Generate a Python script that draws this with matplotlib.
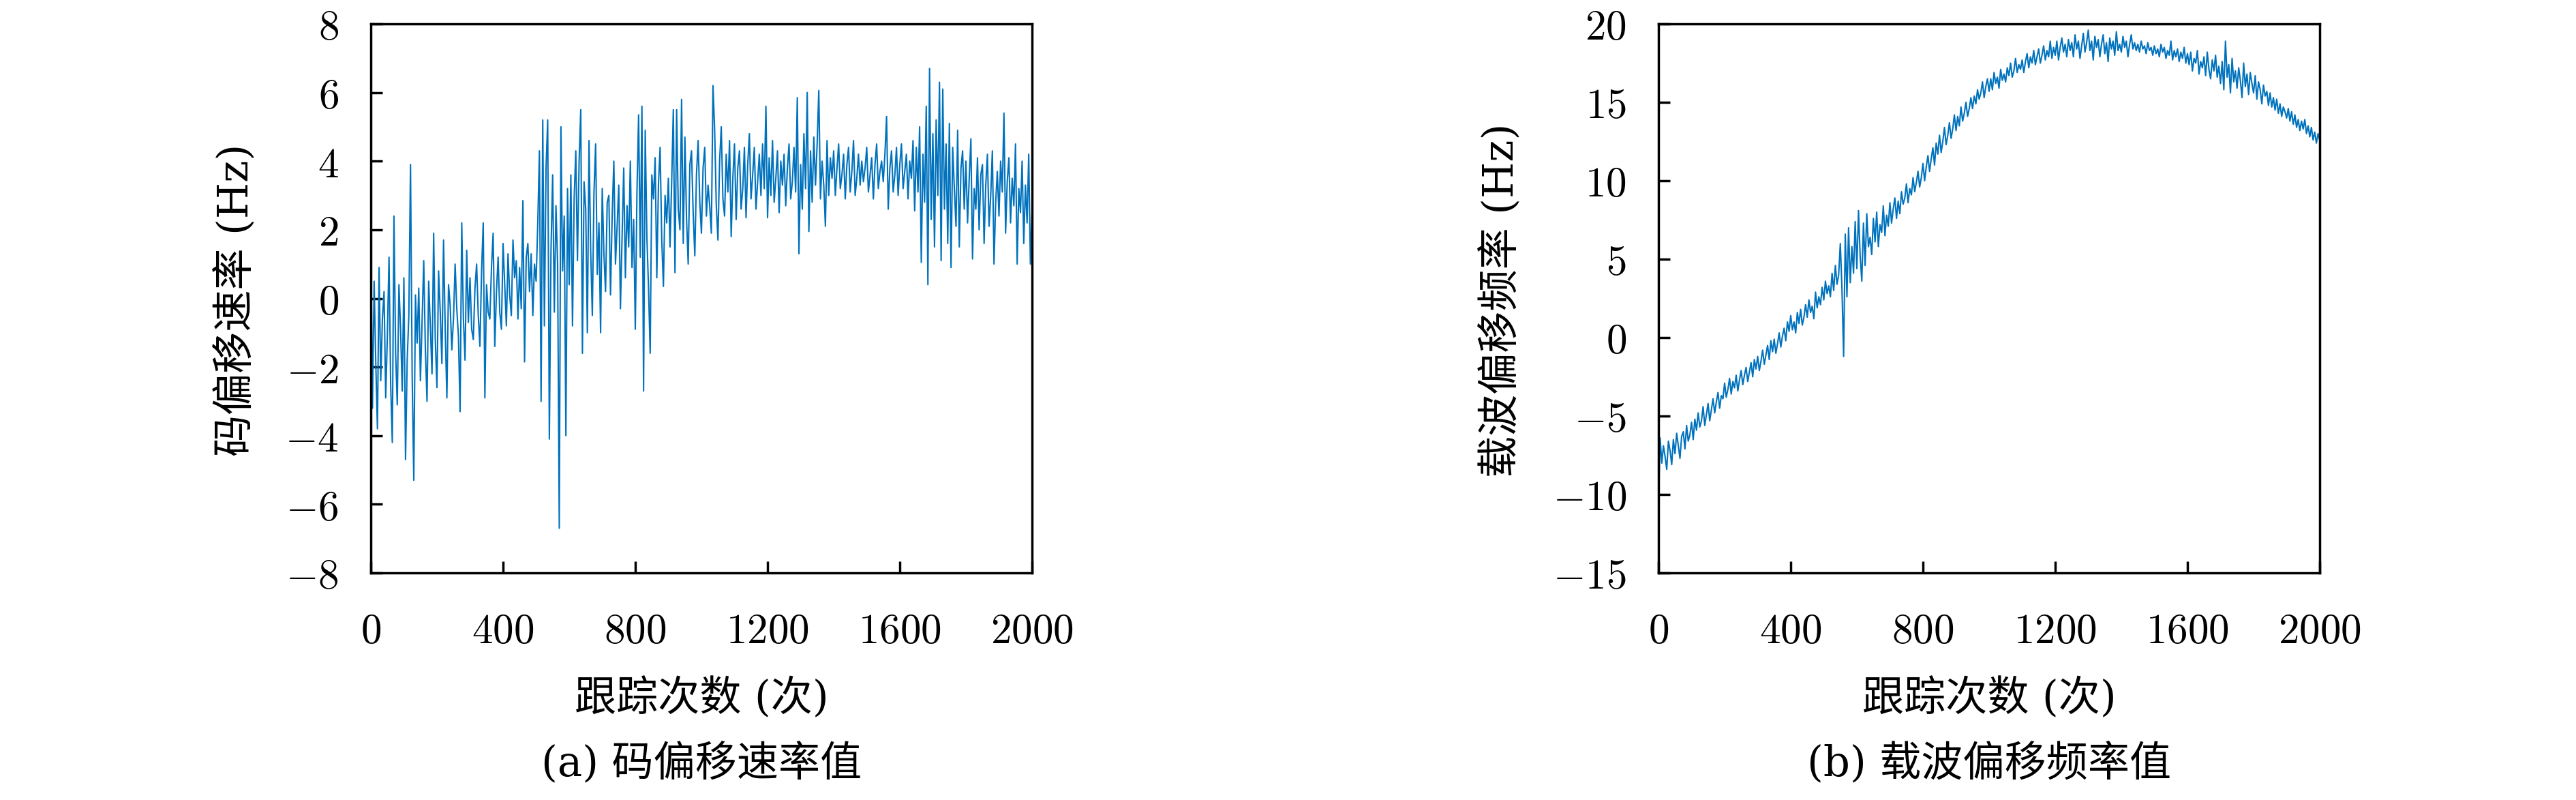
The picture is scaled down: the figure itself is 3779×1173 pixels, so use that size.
import numpy as np
import matplotlib
matplotlib.use("Agg")
import matplotlib.pyplot as plt
from matplotlib.ticker import FuncFormatter

plt.rcParams['mathtext.fontset'] = 'cm'
plt.rcParams['font.family'] = ['DejaVu Serif', 'Noto Sans CJK SC']

# values, one every 5 tracking steps (0..2000)
# (a) code offset rate, Hz
code_rate = [
    1.8, -3.2, 0.5, -1.9, -3.8, 0.9, -2.4, -0.6, 0.2, -2.9,
    -1.1, 1.2, -2.5, -4.2, 2.4, -1.6, -3.1, 0.4, -0.9, -2.7,
    0.6, -4.7, -1.8, -0.5, 3.9, -2.2, -5.3, 0.1, -1.3, 0.3,
    -2.4, -0.7, 1.1, -1.5, -3.0, 0.5, -0.8, -2.2, 1.9, -1.2,
    -2.6, 0.8, -0.4, -1.9, 1.7, -0.9, -2.9, 0.4, -0.2, -1.5,
    -0.6, 1.0, -0.3, -1.1, -3.3, 2.2, -0.6, -1.8, 1.4, -0.7,
    0.6, -0.9, -1.2, 0.3, 1.0, -0.5, -1.4, 0.8, 2.2, -2.9,
    0.4, -0.4, -0.6, 0.9, 1.9, -1.4, 0.2, 1.2, -0.4, -0.9,
    1.6, 0.4, -0.8, 1.3, 0.1, -0.5, 1.7, 0.6, 1.1, -0.6,
    0.9, -0.3, 2.85, -1.85, 1.2, 1.6, 0.2, 1.3, -0.5, 1.0,
    0.5, 2.2, 4.3, -3.0, 5.2, -0.8, 3.8, 5.2, -4.1, 1.4,
    3.6, -0.4, 2.7, 1.0, -6.7, 5.0, 0.8, 2.4, -4.0, 3.2,
    0.4, 3.6, -0.8, 2.9, 4.3, 1.1, 4.0, 5.5, -1.6, 3.4,
    2.6, -1.0, 4.6, 1.4, -0.5, 3.1, 4.5, 0.7, 2.2, -1.0,
    3.2, 1.3, 0.2, 2.8, 3.0, 0.1, 2.4, 4.0, 1.0, 2.1,
    3.3, -0.3, 1.8, 3.8, 0.6, 2.7, 1.5, 4.0, 0.9, 2.3,
    -0.9, 3.1, 5.35, 1.2, 5.6, -2.7, 4.9, 1.8, 0.3, -1.6,
    3.6, 2.9, 4.1, 0.6, 3.3, 4.4, 1.7, 0.35, 3.0, 2.2,
    3.5, 1.5, 3.4, 5.5, 0.75, 5.5, 2.6, 2.0, 5.8, 1.6,
    4.7, 2.3, 1.0, 3.9, 4.3, 2.5, 1.24, 3.6, 4.6, 2.8,
    1.9, 3.8, 4.4, 2.4, 3.3, 2.7, 1.9, 6.2, 4.9, 2.7,
    1.7, 4.0, 5.0, 2.9, 2.4, 4.2, 3.1, 4.6, 1.8, 3.5,
    4.5, 2.3, 3.8, 4.3, 2.6, 3.2, 4.4, 2.35, 3.9, 4.8,
    2.9, 3.6, 4.4, 2.6, 3.4, 4.2, 3.0, 4.5, 3.2, 5.6,
    2.35, 4.1, 3.0, 4.6, 2.8, 3.5, 4.3, 2.5, 4.0, 3.3,
    4.2, 2.7, 3.8, 4.5, 2.9, 3.4, 4.4, 3.1, 5.85, 1.3,
    3.9, 2.6, 4.8, 3.2, 6.0, 1.95, 4.3, 2.8, 4.7, 3.3,
    4.5, 6.06, 2.9, 4.0, 3.3, 2.1, 4.6, 3.0, 4.1, 3.5,
    4.3, 3.0, 3.8, 4.5, 3.2, 3.6, 4.2, 2.9, 3.9, 4.4,
    3.1, 3.7, 4.6, 3.0, 3.5, 4.2, 3.3, 4.0, 3.4, 3.8,
    4.4, 3.1, 3.6, 4.1, 2.9, 3.9, 4.5, 3.2, 3.7, 4.0,
    3.4, 4.2, 5.3, 2.6, 3.8, 4.3, 3.1, 3.6, 4.4, 3.0,
    3.9, 4.5, 3.2, 3.7, 4.2, 2.9, 4.0, 3.5, 4.6, 2.55,
    4.4, 3.1, 5.0, 1.05, 4.2, 2.8, 5.6, 0.4, 6.7, 2.3,
    4.8, 1.5, 5.2, 3.0, 6.3, 1.1, 6.1, 2.6, 4.5, 1.6,
    5.1, 0.9, 4.4, 3.2, 2.1, 4.9, 1.5, 3.8, 4.3, 2.6,
    4.0, 2.2, 3.5, 4.65, 1.15, 3.2, 2.6, 4.1, 2.0, 3.6,
    3.9, 1.6, 3.3, 4.2, 2.1, 3.0, 4.3, 1.0, 2.8, 3.7,
    2.4, 4.0, 3.1, 5.4, 1.9, 3.4, 4.1, 2.2, 3.5, 2.7,
    4.5, 1.0, 3.2, 2.5, 4.0, 1.6, 3.3, 2.2, 4.2, 1.0,
    2.5,
]

# (b) carrier offset frequency, Hz
carrier_freq = [
    -10.5, -6.4, -8.0, -6.9, -7.6, -8.4, -6.6, -7.2, -8.1, -6.5,
    -7.4, -6.1, -6.9, -7.7, -6.3, -6.0, -7.1, -5.6, -6.6, -6.2,
    -5.4, -6.5, -5.2, -5.9, -4.8, -5.7, -5.3, -4.4, -5.6, -4.9,
    -4.2, -5.3, -4.6, -3.9, -4.8, -4.1, -3.5, -4.5, -3.7, -3.9,
    -2.9, -3.8, -3.3, -2.6, -3.6, -2.8, -3.2, -2.4, -3.4, -2.7,
    -2.1, -3.0, -2.4, -1.9, -2.8, -2.2, -1.6, -2.5, -1.4, -2.0,
    -1.2, -2.1, -1.5, -0.8, -1.7, -1.1, -0.5, -1.4, -0.2, -0.9,
    -0.1, -1.0, -0.4, 0.3, -0.6, 0.1, 0.6, -0.2, 1.0, 0.4,
    1.4, 0.5, 1.0, 0.3, 1.6, 0.9, 1.8, 0.8, 1.3, 2.1,
    1.3, 2.4, 1.6, 2.0, 1.2, 2.9, 1.9, 2.6, 2.1, 3.2,
    2.4, 3.6, 2.8, 3.3, 2.6, 4.1, 3.0, 4.6, 3.4, 4.0,
    6.0, 3.1, -1.2, 6.6, 2.6, 7.0, 3.5, 5.8, 4.1, 7.4,
    4.4, 8.1, 5.2, 3.6, 7.3, 4.6, 7.9, 5.8, 6.4, 5.3,
    7.6, 6.1, 8.0, 5.8, 7.2, 6.7, 8.4, 6.5, 7.8, 7.1,
    8.6, 7.3, 8.2, 8.9, 7.6, 8.7, 7.9, 9.3, 8.5, 8.9,
    9.8, 8.6, 9.5, 9.1, 10.2, 9.3, 9.9, 10.6, 9.6, 10.2,
    11.1, 10.0, 10.9, 11.6, 10.6, 11.4, 12.1, 11.0, 12.4, 11.7,
    12.9, 11.8, 12.5, 13.4, 12.3, 12.9, 13.7, 12.7, 13.3, 14.2,
    13.2, 14.1, 13.5, 14.7, 13.8, 14.3, 15.0, 14.1, 14.6, 15.3,
    14.6, 15.4, 14.9, 15.8, 15.2, 15.6, 16.3, 15.3, 16.0, 16.5,
    15.7, 16.5, 15.8, 16.9, 16.2, 16.6, 15.9, 17.1, 16.4, 16.8,
    16.3, 17.2, 16.7, 17.5, 16.6, 17.0, 17.8, 16.9, 17.4, 17.1,
    17.7, 16.9, 17.6, 18.1, 17.2, 17.9, 17.5, 18.3, 17.4, 17.9,
    18.4, 17.5, 18.0, 18.6, 17.7, 18.3, 17.9, 18.9, 17.8, 18.5,
    18.0, 18.9, 17.7, 18.5, 19.1, 18.2, 18.7, 17.9, 19.0, 18.3,
    18.8, 17.9, 19.3, 18.4, 18.9, 17.8, 18.6, 19.4, 18.2, 18.8,
    19.6, 18.3, 18.9, 17.7, 19.2, 18.5, 19.0, 17.9, 18.7, 19.3,
    18.1, 18.8, 17.6, 19.1, 18.4, 18.9, 18.0, 19.5, 18.3, 18.7,
    18.2, 19.2, 18.5, 18.9, 17.9, 18.7, 19.3, 18.4, 18.8, 18.3,
    18.7, 18.2, 18.9, 18.4, 18.6, 18.1, 18.8, 18.3, 18.5, 18.0,
    18.6, 18.1, 18.4, 17.9, 18.7, 18.2, 18.5, 17.8, 18.3, 18.0,
    18.9, 17.7, 18.3, 17.9, 18.4, 17.6, 18.2, 17.8, 18.5, 17.5,
    18.1, 17.4, 18.2, 17.0, 17.8, 17.5, 18.3, 16.8, 17.6, 17.2,
    17.9, 16.7, 18.2, 17.1, 16.5, 17.7, 17.0, 18.0, 16.6, 17.3,
    16.2, 17.6, 15.8, 18.9, 16.6, 17.4, 15.6, 17.8, 16.3, 17.0,
    15.9, 17.2, 16.4, 15.3, 17.5, 16.0, 16.8, 15.5, 16.9, 16.2,
    15.6, 16.7, 15.2, 16.3, 15.8, 14.9, 16.1, 15.4, 15.7, 14.8,
    15.6, 14.7, 15.3, 14.5, 15.2, 14.3, 14.9, 14.1, 14.7, 14.4,
    14.0, 14.6, 13.8, 14.4, 13.6, 14.2, 13.4, 13.9, 13.2, 13.8,
    13.3, 13.9, 13.0, 13.5, 12.8, 13.4, 12.6, 13.1, 12.4, 13.0,
    12.6,
]

x_ticks = [0, 400, 800, 1200, 1600, 2000]
ya_ticks = [-8, -6, -4, -2, 0, 2, 4, 6, 8]
yb_ticks = [-15, -10, -5, 0, 5, 10, 15, 20]

line_color = '#0072BD'
fs = 44
W, H = 3780, 1173

fig = plt.figure(figsize=(W / 100, H / 100), dpi=100)
ax_a = fig.add_axes([544 / W, 1 - 840 / H, 970 / W, 805 / H])
ax_b = fig.add_axes([2433 / W, 1 - 840 / H, 970 / W, 805 / H])

math_fmt = FuncFormatter(lambda v, p: '$%d$' % v)

for ax, y, yt in [(ax_a, code_rate, ya_ticks), (ax_b, carrier_freq, yb_ticks)]:
    x = np.linspace(0, 2000, len(y))
    ax.plot(x, y, color=line_color, lw=1.5)
    ax.set_xlim(0, 2000)
    ax.set_ylim(yt[0], yt[-1])
    ax.set_xticks(x_ticks)
    ax.set_yticks(yt)
    ax.xaxis.set_major_formatter(math_fmt)
    ax.yaxis.set_major_formatter(math_fmt)
    ax.tick_params(direction='in', length=12, width=2.5, labelsize=fs)
    ax.tick_params(axis='x', pad=40)
    ax.tick_params(axis='y', pad=34)
    for s in ax.spines.values():
        s.set_linewidth(2.5)

# axis labels and captions
fig.text(347 / W, 1 - 440 / H, '码偏移速率 (Hz)', rotation=90,
         ha='center', va='center', fontsize=fs)
fig.text(2203 / W, 1 - 440 / H, '载波偏移频率 (Hz)', rotation=90,
         ha='center', va='center', fontsize=fs)
fig.text(1029 / W, 1 - 1025 / H, '跟踪次数 (次)', ha='center', va='center', fontsize=fs)
fig.text(2918 / W, 1 - 1025 / H, '跟踪次数 (次)', ha='center', va='center', fontsize=fs)
fig.text(1029 / W, 1 - 1121 / H, '(a) 码偏移速率值', ha='center', va='center', fontsize=fs)
fig.text(2918 / W, 1 - 1121 / H, '(b) 载波偏移频率值', ha='center', va='center', fontsize=fs)

fig.savefig('out.png', dpi=100)
